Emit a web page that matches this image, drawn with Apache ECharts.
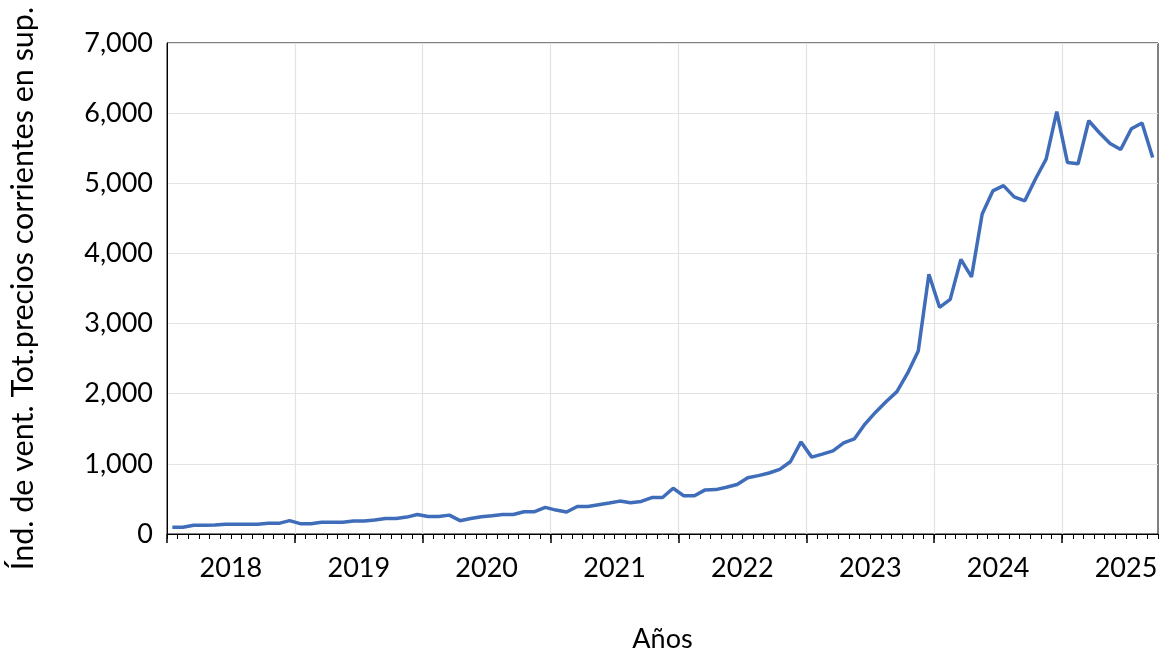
<!DOCTYPE html>
<html>
<head>
<meta charset="utf-8">
<script src="https://cdn.jsdelivr.net/npm/echarts@6/dist/echarts.min.js"></script>
<style>html,body{margin:0;padding:0;background:#fff}#c{width:1164px;height:658px}</style>
</head>
<body>
<div id="c"></div>
<script>
// Monthly index, Jan 2018 .. Sep 2025
const startYear = 2018;
const years = ['2018','2019','2020','2021','2022','2023','2024','2025'];
const v2018 = [95, 95, 124, 124, 128, 138, 138, 138, 138, 152, 152, 190];
const v2019 = [147, 147, 166, 166, 166, 185, 185, 199, 222, 222, 241, 279];
const v2020 = [250, 250, 269, 190, 222, 246, 260, 279, 279, 318, 318, 379];
const v2021 = [341, 313, 393, 393, 417, 441, 469, 445, 464, 520, 520, 652];
const v2022 = [544, 544, 629, 633, 667, 705, 803, 832, 870, 922, 1030, 1313];
const v2023 = [1096, 1139, 1185, 1298, 1355, 1567, 1737, 1888, 2030, 2292, 2610, 3703];
const v2024 = [3232, 3345, 3915, 3666, 4562, 4891, 4967, 4806, 4750, 5061, 5344, 6023];
const v2025 = [5297, 5278, 5891, 5721, 5566, 5481, 5778, 5859, 5368];
const yTicks = [0, 1000, 2000, 3000, 4000, 5000, 6000, 7000];

const values = [].concat(v2018, v2019, v2020, v2021, v2022, v2023, v2024, v2025);
const nMonths = values.length; // 93
const seriesData = values.map((v, i) => [i + 0.5, v]);
const yearStarts = years.map((y, k) => k * 12);
const yearMids = years.map((y, k) => k * 12 + 6);
const monthTicks = [];
for (let i = 0; i <= nMonths; i++) monthTicks.push(i);

const FONT = 'Lato';
const chart = echarts.init(document.getElementById('c'));
chart.setOption({
  animation: false,
  backgroundColor: '#fff',
  grid: {left: 166, right: 6, top: 43, bottom: 119, show: true, borderColor: '#000', borderWidth: 1, backgroundColor: 'transparent'},
  xAxis: [{
    type: 'value', min: 0, max: nMonths, interval: 12,
    name: 'Años', nameLocation: 'middle', nameGap: 92,
    nameTextStyle: {fontFamily: FONT, fontSize: 27, color: '#000'},
    axisLine: {show: true, lineStyle: {color: '#000', width: 1}},
    axisTick: {show: true, customValues: yearStarts, length: 9, lineStyle: {color: '#000', width: 1.5}},
    axisLabel: {show: true, customValues: yearMids, margin: 21, fontFamily: FONT, fontSize: 27, color: '#000',
      formatter: v => String(startYear + Math.floor(v / 12))},
    splitLine: {show: true, lineStyle: {color: '#e3e3e3', width: 1.2}}
  }, {
    type: 'value', min: 0, max: nMonths, position: 'bottom', offset: 0,
    axisLine: {show: false},
    axisTick: {show: true, customValues: monthTicks, length: 5, lineStyle: {color: '#000', width: 1}},
    axisLabel: {show: false},
    splitLine: {show: false}
  }],
  yAxis: {
    type: 'value', min: 0, max: 7000, interval: 1000,
    name: 'Índ. de vent. Tot.precios corrientes en sup.', nameLocation: 'middle', nameGap: 128,
    nameTextStyle: {fontFamily: FONT, fontSize: 30.5, color: '#000'},
    axisLine: {show: true, lineStyle: {color: '#000', width: 1}},
    axisTick: {show: false},
    axisLabel: {customValues: yTicks, margin: 14, fontFamily: FONT, fontSize: 27, color: '#000', padding: [0, 0, 8, 0],
      formatter: v => v.toLocaleString('en-US')},
    splitLine: {show: true, lineStyle: {color: '#e3e3e3', width: 1.2}}
  },
  series: [{
    type: 'line', xAxisIndex: 0, data: seriesData, showSymbol: false,
    lineStyle: {color: '#3F6DB9', width: 3.5}, z: 5
  }]
});
</script>
</body>
</html>
